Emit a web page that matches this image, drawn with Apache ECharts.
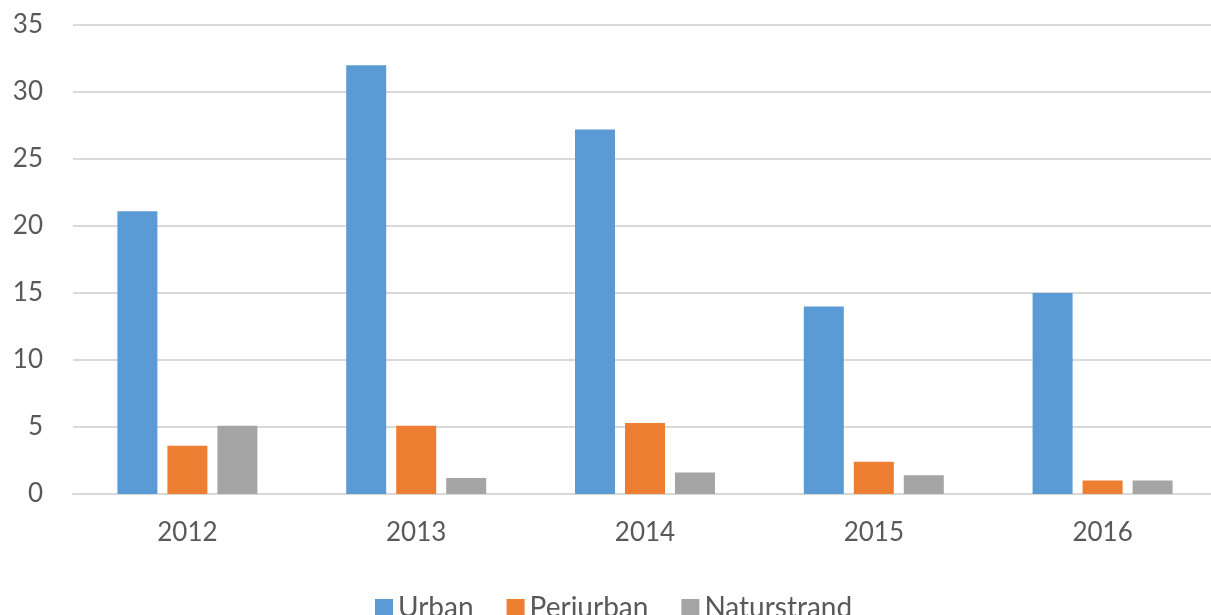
<!DOCTYPE html>
<html>
<head>
<meta charset="utf-8">
<script src="https://cdn.jsdelivr.net/npm/echarts@6/dist/echarts.min.js"></script>
<style>
html,body{margin:0;padding:0;background:#fff;overflow:hidden;}
#chart{width:1225px;height:615px;}
</style>
</head>
<body>
<div id="chart"></div>
<script>
const categories = ['2012', '2013', '2014', '2015', '2016'];
const urban = [21.1, 32, 27.2, 14, 15];
const periurban = [3.6, 5.1, 5.3, 2.4, 1.0];
const naturstrand = [5.1, 1.2, 1.6, 1.4, 1.0];
const seriesNames = ['Urban', 'Periurban', 'Naturstrand'];
const colors = ['#5B9BD5', '#ED7D31', '#A5A5A5'];

const chart = echarts.init(document.getElementById('chart'));
const font = 'Lato, "Open Sans", sans-serif';
chart.setOption({
  animation: false,
  color: colors,
  textStyle: { fontFamily: font },
  grid: { left: 73, top: 25, right: 8, height: 469, containLabel: false },
  legend: {
    data: seriesNames,
    top: 589,
    left: 370,
    itemWidth: 18,
    itemHeight: 18,
    itemGap: 33,
    icon: 'rect',
    textStyle: { fontSize: 28, color: '#595959', fontFamily: font }
  },
  xAxis: {
    type: 'category',
    data: categories,
    axisLine: { show: true, lineStyle: { color: '#D9D9D9', width: 2 } },
    axisTick: { show: false },
    axisLabel: { fontSize: 26, color: '#595959', margin: 26, fontFamily: font }
  },
  yAxis: {
    type: 'value',
    min: 0,
    max: 35,
    interval: 5,
    axisLine: { show: false },
    axisTick: { show: false },
    axisLabel: { fontSize: 26, color: '#595959', margin: 30, fontFamily: font },
    splitLine: { lineStyle: { color: '#D9D9D9', width: 2 } }
  },
  series: [
    { name: seriesNames[0], type: 'bar', data: urban, barWidth: 40, barGap: '25%' },
    { name: seriesNames[1], type: 'bar', data: periurban, barWidth: 40, barGap: '25%' },
    { name: seriesNames[2], type: 'bar', data: naturstrand, barWidth: 40, barGap: '25%' }
  ]
});
</script>
</body>
</html>
